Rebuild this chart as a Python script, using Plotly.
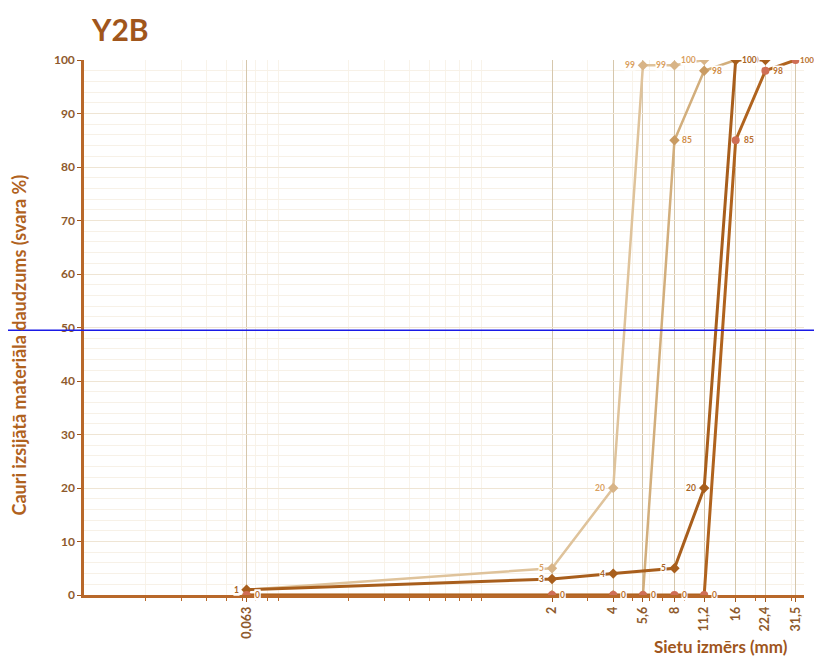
import numpy as np
import plotly.graph_objects as go

# ---------------- data ----------------
sieve_ticks = [0.063, 2, 4, 5.6, 8, 11.2, 16, 22.4, 31.5]
sieve_tick_text = ["0,063", "2", "4", "5,6", "8", "11,2", "16", "22,4", "31,5"]

s1_x = [0.063, 2, 4, 5.6, 8, 11.2]
s1_y = [1, 5, 20, 99, 99, 100]

s2_x = [0.063, 2, 4, 5.6, 8, 11.2, 16]
s2_y = [0, 0, 0, 0, 85, 98, 100]

s3_x = [0.063, 2, 4, 8, 11.2, 16, 22.4]
s3_y = [1, 3, 4, 5, 20, 100, 100]

s4_x = [0.063, 2, 4, 5.6, 8, 11.2, 16, 22.4, 31.5]
s4_y = [0, 0, 0, 0, 0, 0, 85, 98, 100]

title_text = "Y2B"
x_title = "Sietu izmērs (mm)"
y_title = "Cauri izsijātā materiāla daudzums (svara %)"
ref_level = 49.5

# ---------------- styles ----------------
FONT = "Lato, 'Open Sans', sans-serif"
BROWN = "#A0561C"
# label placement per point: "l" left, "r" right, "rt" tight right, None hidden
series = [
    dict(x=s1_x, y=s1_y, line="#DFC39B", marker="#D8B487", lw=2.5, sym="diamond",
         lab="#D9A060", side=["l", "l", "l", "l", "l", "l"]),
    dict(x=s2_x, y=s2_y, line="#D2AE7C", marker="#C99B62", lw=2.5, sym="diamond",
         lab="#D08D45", side=["r", "r", "r", "r", "r", "r", "r"]),
    dict(x=s3_x, y=s3_y, line="#A85E1C", marker="#A85E1C", lw=3, sym="diamond",
         lab="#A86424", side=["l", "l", "l", "l", "l", None, "l"]),
    dict(x=s4_x, y=s4_y, line="#B0631E", marker="#CF6E55", lw=3, sym="circle",
         lab="#B8702E", side=["r"] * 8 + ["rt"]),
]
SHIFT = {"l": -7, "r": 7, "rt": 3}

# page body has an 8px margin: compensate so the plot sits where the reference has it
W, H, OFF = 822, 657, 8
L, T, B = 84 - OFF, 60 - OFF, 62
PLOT_W = 720
R = (W - OFF) - L - PLOT_W

fig = go.Figure()
annotations = []
for s in series:
    fig.add_trace(go.Scatter(
        x=s["x"], y=s["y"], mode="lines+markers",
        line=dict(color=s["line"], width=s["lw"]),
        marker=dict(color=s["marker"], size=8, symbol=s["sym"]),
        showlegend=False, hoverinfo="x+y"))
for s in series:
    for xv, yv, side in zip(s["x"], s["y"], s["side"]):
        if side is None:
            continue
        annotations.append(dict(
            x=np.log10(xv), y=yv, xref="x", yref="y", text=str(yv),
            showarrow=False, bgcolor="white", borderpad=0,
            xanchor="right" if side == "l" else "left",
            xshift=SHIFT[side],
            font=dict(family=FONT, size=8 if side == "rt" else 8.5,
                      color=s["lab"], weight="bold")))

annotations.append(dict(
    x=1.0, y=0, xref="paper", yref="paper", yshift=-51, xshift=-14,
    text=x_title, showarrow=False, xanchor="right", yanchor="middle",
    font=dict(family=FONT, size=17, color=BROWN, weight="bold")))
annotations.append(dict(
    x=0, y=0.5, xref="paper", yref="paper", xshift=-66, yshift=-18, textangle=-90,
    text=y_title, showarrow=False, xanchor="center", yanchor="middle",
    font=dict(family=FONT, size=18, color="#B0621E", weight="bold")))

minor_vals = [m * 10.0 ** k for k in range(-2, 2) for m in range(2, 10)
              if m * 10.0 ** k < 34]

fig.update_layout(
    width=W - OFF, height=H - OFF,
    margin=dict(l=L, r=R, t=T, b=B, autoexpand=False),
    paper_bgcolor="white", plot_bgcolor="white",
    title=dict(text=title_text, x=(92 - OFF) / (W - OFF), xanchor="left",
               y=1 - (30 - OFF) / (H - OFF), yanchor="middle",
               font=dict(family=FONT, size=30, color=BROWN, weight="bold")),
    xaxis=dict(
        type="log", range=[-2.0, 1.54], automargin=False,
        tickmode="array", tickvals=sieve_ticks, ticktext=sieve_tick_text,
        tickangle=-90, ticks="outside", ticklen=4, tickcolor=BROWN,
        tickfont=dict(family=FONT, size=12.5, color="#8E5A2C", weight="bold"),
        showgrid=True, gridcolor="#D6C7AC", gridwidth=1,
        showline=True, linecolor="#B8682A", linewidth=2.5,
        zeroline=False,
        minor=dict(tickvals=minor_vals, ticks="outside", ticklen=3,
                   tickcolor="#B8682A", showgrid=True, gridcolor="#F8F3EA"),
    ),
    yaxis=dict(
        range=[0, 100], dtick=10, automargin=False,
        ticks="outside", ticklen=4, tickcolor=BROWN,
        tickfont=dict(family=FONT, size=12, color="#8E5A2C", weight="bold"),
        showgrid=True, gridcolor="#EFE5D4", gridwidth=1,
        showline=True, linecolor="#B8682A", linewidth=2.5,
        zeroline=False,
        minor=dict(dtick=2, showgrid=True, gridcolor="#F7F1E7"),
    ),
    annotations=annotations,
    shapes=[dict(type="line", xref="paper", yref="y",
                 x0=-L / PLOT_W, x1=(W - OFF - L) / PLOT_W, y0=ref_level, y1=ref_level,
                 line=dict(color="#1A1AE6", width=1.5), layer="above")],
)

fig.write_html("out.html")
